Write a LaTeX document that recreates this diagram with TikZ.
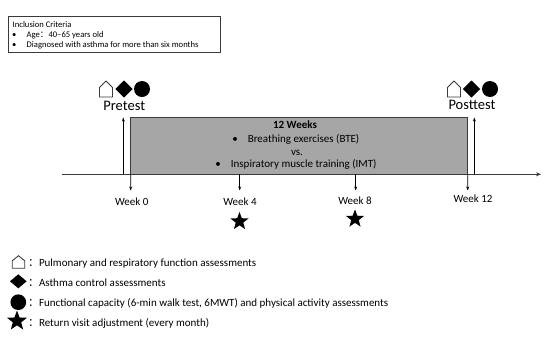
\documentclass[tikz,border=0pt]{standalone}
\usepackage{fontspec}
\setmainfont{Carlito}
\newfontfamily\cjk{Noto Sans CJK SC}
\usetikzlibrary{shapes.geometric,arrows.meta}
\definecolor{boxgray}{HTML}{A6A6A6}
\definecolor{linegray}{HTML}{3A3A3A}
\tikzset{
  pics/house/.style={code={
    \draw[draw=linegray, line width=0.9bp, fill=white, line join=miter]
      (-0.5,0.5) -- (-0.5,-0.1) -- (0,-0.5) -- (0.5,-0.1) -- (0.5,0.5) -- cycle;}}
}
\begin{document}
\begin{tikzpicture}[x=1bp,y=-1bp,
  every node/.style={inner sep=0pt, outer sep=0pt},
  lbl/.style={font=\fontsize{11bp}{13bp}\selectfont, anchor=base},
  boldlbl/.style={font=\fontsize{11bp}{13bp}\selectfont\bfseries, anchor=base},
  lgd/.style={font=\fontsize{11bp}{13bp}\selectfont, anchor=base west},
  incl/.style={font=\fontsize{8.6bp}{10bp}\selectfont, anchor=base west},
  big/.style={font=\fontsize{14.5bp}{17bp}\selectfont, anchor=base},
  blackdiamond/.style={diamond, fill=black},
  blackdot/.style={circle, fill=black},
  blackstar/.style={star, star points=5, star point ratio=2.4, fill=black},
  axis/.style={draw=linegray, line width=1.3bp, -{Stealth[length=5bp,width=4bp]}},
  upar/.style={draw=black, line width=0.9bp, -{Stealth[length=4bp,width=3bp]}},
  tickar/.style={draw=black, line width=0.9bp, -{Stealth[length=4bp,width=3bp]}}
]
\useasboundingbox (0,0) rectangle (550,340);

% inclusion criteria
\node[draw=linegray, line width=0.8bp, minimum width=211.7bp, minimum height=36.3bp] (inclbox) at (114.15,34.15) {};
\node[incl] (incltitle) at (12.7,27) {Inclusion Criteria};
\node[incl] (incla) at (12.2,37.3) {\textbullet\hspace{10.2bp}Age{\cjk ：}40–65 years old};
\node[incl] (inclb) at (12.2,47.7) {\textbullet\hspace{10.2bp}Diagnosed with asthma for more than six months};

% programme box
\node[draw=linegray, fill=boxgray, line width=1bp, minimum width=337bp, minimum height=56.6bp] (prog) at (299.2,146) {};
\node[boldlbl] (weeks) at (295,128.3) {12 Weeks};
\node[lbl] (bte) at (295.8,142.3) {\textbullet\hspace{10bp}Breathing exercises (BTE)};
\node[lbl] (vs) at (297,155) {vs.};
\node[lbl] (imt) at (296,167.7) {\textbullet\hspace{10bp}Inspiratory muscle training (IMT)};

% timeline
\coordinate (tlstart) at (61.7,174.3);
\coordinate (tlend) at (541,174.3);
\draw[axis] (tlstart) -- (tlend);

% pretest / posttest arrows
\coordinate (prebot) at (123.3,174.3);
\coordinate (pretop) at (123.3,117.5);
\draw[upar] (prebot) -- (pretop);
\coordinate (postbot) at (474.3,174.3);
\coordinate (posttop) at (474.3,117.5);
\draw[upar] (postbot) -- (posttop);

% week ticks
\coordinate (wk0) at (130.7,190.5);
\coordinate (wk4top) at (239.7,174.3);
\coordinate (wk4) at (239.7,190.5);
\coordinate (wk8top) at (355.7,174.3);
\coordinate (wk8) at (355.7,190.5);
\coordinate (wk12) at (467.7,190.5);
\draw[tickar] (prog.south west) -- (wk0);
\draw[tickar] (wk4top) -- (wk4);
\draw[tickar] (wk8top) -- (wk8);
\draw[tickar] (prog.south east) -- (wk12);

\node[lbl] (lw0) at (131.7,205) {Week 0};
\node[lbl] (lw4) at (240,205) {Week 4};
\node[lbl] (lw8) at (355,204) {Week 8};
\node[lbl] (lw12) at (473,202.7) {Week 12};

\node[blackstar, minimum size=19bp] (star4) at (239.5,221.4) {};
\node[blackstar, minimum size=19bp] (star8) at (355,218.9) {};

% pretest icons
\pic[xscale=13,yscale=16] (prehouse) at (106,89) {house};
\node[blackdiamond, minimum width=17.5bp, minimum height=17bp] (predia) at (124,89) {};
\node[blackdot, minimum size=16bp] (predot) at (142,89) {};
\node[big] (pretest) at (124.2,110) {Pretest};

% posttest icons
\pic[xscale=13,yscale=16] (posthouse) at (454,89) {house};
\node[blackdiamond, minimum width=17.5bp, minimum height=17bp] (postdia) at (471.5,89) {};
\node[blackdot, minimum size=16bp] (postdot) at (490,89) {};
\node[big] (posttest) at (472,109.5) {Posttest};

% legend
\pic[xscale=12.5,yscale=12.5] (lghouse) at (18.5,262) {house};
\node[blackdiamond, minimum width=16.7bp, minimum height=14bp] (lgdia) at (18.3,281.3) {};
\node[blackdot, minimum size=15.7bp] (lgdot) at (18.3,302.2) {};
\node[blackstar, minimum size=21bp] (lgstar) at (17,321) {};
\node[lgd] (lgtxta) at (28,266.7) {{\cjk ：}Pulmonary and respiratory function assessments};
\node[lgd] (lgtxtb) at (28,286) {{\cjk ：}Asthma control assessments};
\node[lgd] (lgtxtc) at (28,306.7) {{\cjk ：}Functional capacity (6-min walk test, 6MWT) and physical activity assessments};
\node[lgd] (lgtxtd) at (28,326) {{\cjk ：}Return visit adjustment (every month)};
\end{tikzpicture}
\end{document}
